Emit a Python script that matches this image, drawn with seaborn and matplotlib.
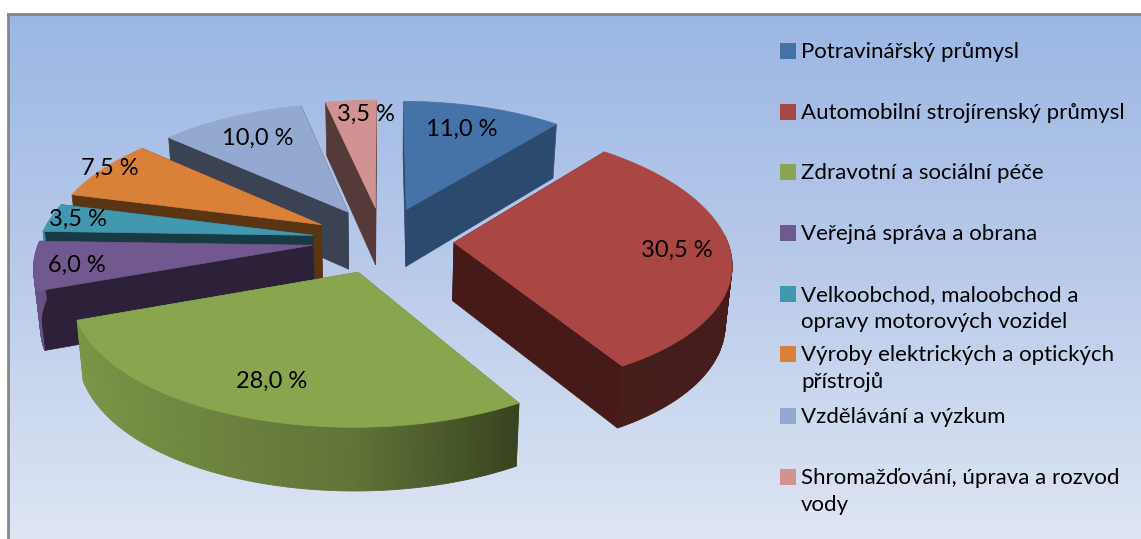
import numpy as np
import pandas as pd
import matplotlib
matplotlib.use("Agg")
import matplotlib.pyplot as plt
import seaborn as sns

# Data
categories = [
    "Potravinářský průmysl",
    "Automobilní strojírenský průmysl",
    "Zdravotní a sociální péče",
    "Veřejná správa a obrana",
    "Velkoobchod, maloobchod a\nopravy motorových vozidel",
    "Výroby elektrických a optických\npřístrojů",
    "Vzdělávání a výzkum",
    "Shromažďování, úprava a rozvod\nvody",
]
shares = [11.0, 30.5, 28.0, 6.0, 3.5, 7.5, 10.0, 3.5]
top_colors = ["#4572a7", "#aa4643", "#89a54e", "#71588f", "#4198af", "#d98039", "#93a9cf", "#d19392"]
wall_colors = ["#2c4a6e", "#451a18", "#5f7436", "#2c2138", "#183a44", "#5a3514", "#3a4254", "#553a3a"]
label_radius = [0.78, 0.80, 0.80, 0.87, 0.86, 0.89, 0.72, 0.85]
label_dx = [-6, 2, 3, 6, -9, -15, -3, 12]
label_dy = [1, 0, -4, 2, -1, -7, -4, -1]
legend_y = [51, 112, 172, 233, 294, 354, 416, 477]

# Look of the pie (pixels of the picture)
CX, CY = 383, 240
RX, RY = 273, 128
PERSP_X, PERSP_Y = 0.14, 0.12
EXPLODE = 0.26
DEPTH = 58


def project(u, v, bottom=False):
    x = RX * u / (1 + PERSP_X * v)
    y = RY * v / (1 + PERSP_Y * v)
    if bottom:
        return CX + x * 0.98, CY - y + DEPTH / (1 + 0.6 * PERSP_Y * v)
    return CX + x, CY - y


def slice_point(mid, theta, r, bottom=False):
    u = EXPLODE * np.cos(mid) + r * np.cos(theta)
    v = EXPLODE * np.sin(mid) + r * np.sin(theta)
    return project(u, v, bottom)


def shade(color, theta):
    t = (1 - np.cos(theta)) / 2
    f = np.interp(t, [0, 0.25, 0.5, 1], [0.40, 0.41, 0.70, 0.92])
    return tuple(c * f for c in matplotlib.colors.to_rgb(color))


sns.set_theme(style="white")
plt.rcParams["font.family"] = ["Lato", "DejaVu Sans"]

fig = plt.figure(figsize=(11.41, 5.39), dpi=100, facecolor="white")
ax = fig.add_axes([8 / 1141, 0, 1133 / 1141, 525 / 539])
ax.set_xlim(8, 1141)
ax.set_ylim(539, 14)

# background gradient
grad = np.linspace(0, 1, 256)[:, None]
cmap = matplotlib.colors.LinearSegmentedColormap.from_list("bg", ["#9bb7e4", "#bacbea", "#dee6f4"])
ax.imshow(grad, cmap=cmap, extent=(8, 1141, 539, 14), aspect="auto", zorder=0)

sns.despine(ax=ax, top=False, left=False, right=True, bottom=True)
for side in ["left", "top"]:
    ax.spines[side].set_color("#868686")
    ax.spines[side].set_linewidth(2)
ax.set_xticks([])
ax.set_yticks([])

ends = 90 - np.cumsum(shares) * 3.6
starts = np.r_[90, ends[:-1]]
mids = np.radians((starts + ends) / 2)
order = np.argsort(-np.sin(mids))

z = 2
for i in order:
    mid = mids[i]
    a0, a1 = np.radians(starts[i]), np.radians(ends[i])
    apex_t = slice_point(mid, 0, 0)
    apex_b = slice_point(mid, 0, 0, True)

    # straight walls, the one further back first
    for a in sorted([a0, a1], key=lambda t: -np.sin(t)):
        p_t = slice_point(mid, a, 1)
        p_b = slice_point(mid, a, 1, True)
        xs, ys = zip(apex_t, p_t, p_b, apex_b)
        ax.fill(xs, ys, color=wall_colors[i], lw=0.5, zorder=z)
        z += 1

    # rim, shaded strip by strip
    arc = np.linspace(a0, a1, max(int(shares[i] * 4), 6))
    for b0, b1 in zip(arc[:-1], arc[1:]):
        if np.sin((b0 + b1) / 2) > 0.05:
            continue
        xs, ys = zip(slice_point(mid, b0, 1), slice_point(mid, b1, 1),
                     slice_point(mid, b1, 1, True), slice_point(mid, b0, 1, True))
        ax.fill(xs, ys, color=shade(top_colors[i], (b0 + b1) / 2), lw=0.6, zorder=z)
    z += 1

    # top face
    pts = [apex_t] + [slice_point(mid, t, 1) for t in arc]
    xs, ys = zip(*pts)
    ax.fill(xs, ys, color=top_colors[i], lw=0.5, zorder=z)
    z += 1

# value labels
for i, share in enumerate(shares):
    lx, ly = slice_point(mids[i], mids[i], label_radius[i])
    ax.text(lx + label_dx[i], ly + label_dy[i], f"{share:.1f} %".replace(".", ","),
            ha="center", va="center", fontsize=17, color="black", zorder=100)

# legend
legend_df = pd.DataFrame({"x": 788, "y": legend_y, "name": categories})
sns.scatterplot(data=legend_df, x="x", y="y", hue="name", palette=top_colors, marker="s",
                s=130, linewidth=0, legend=False, ax=ax, zorder=100)
ax.set_xlabel("")
ax.set_ylabel("")
for name, y in zip(categories, legend_y):
    ax.text(801, y - 9, name, ha="left", va="top", fontsize=16, linespacing=1.45,
            color="black", zorder=100)

ax.set_xlim(8, 1141)
ax.set_ylim(539, 14)
fig.savefig("out.png", dpi=100)
